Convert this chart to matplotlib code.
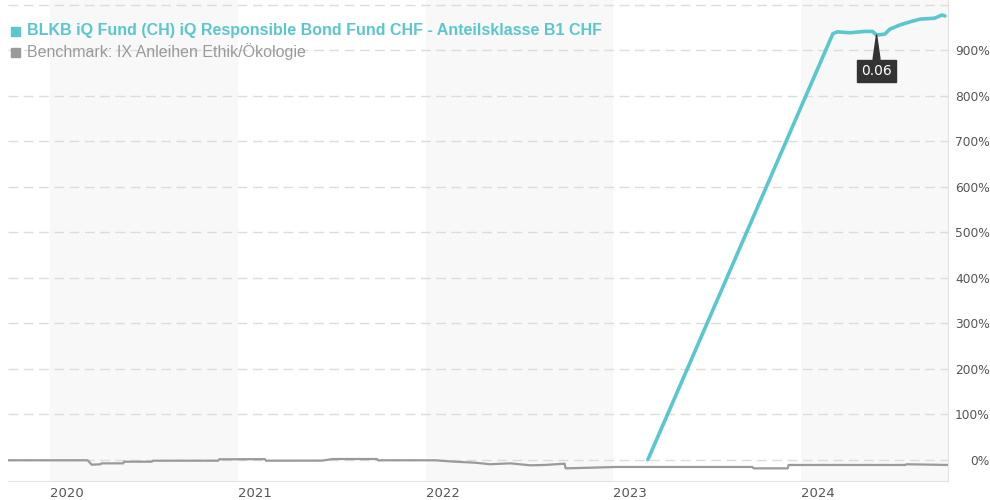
import numpy as np
import pandas as pd
import matplotlib
matplotlib.use("Agg")
from matplotlib import pyplot as plt

plt.rcParams["font.family"] = ["DejaVu Sans"]

fund_dates = ["2023-03-09", "2024-03-03", "2024-03-12", "2024-04-05", "2024-05-04",
              "2024-05-19", "2024-05-27", "2024-06-12", "2024-06-22", "2024-07-11",
              "2024-07-31", "2024-08-20", "2024-09-17", "2024-10-01", "2024-10-07"]
fund_vals = [0, 936, 940, 938, 941, 941, 933, 935, 946, 955, 962, 968, 970, 977, 975]

bench_dates = ["2019-10-11", "2020-03-14", "2020-03-22", "2020-04-08", "2020-04-10",
               "2020-05-22", "2020-05-24", "2020-07-17", "2020-07-19", "2020-11-23",
               "2020-11-25", "2021-02-22", "2021-02-24", "2021-06-13", "2021-07-04",
               "2021-09-28", "2021-09-30", "2022-01-19", "2022-02-27", "2022-04-07",
               "2022-05-06", "2022-06-14", "2022-07-23", "2022-08-20", "2022-09-28",
               "2022-09-30", "2022-11-16", "2023-01-04", "2023-02-02", "2023-09-28",
               "2023-10-01", "2023-12-06", "2023-12-08", "2024-07-21", "2024-07-25",
               "2024-10-13"]
bench_vals = [-1.3, -1.3, -11, -10, -8, -8, -4.4, -4.4, -2.2, -2.2,
              0.9, 1.2, -2.2, -2.0, 1.5, 1.5, -1.3, -1.3, -4.4, -6.6,
              -10, -8, -12.3, -11.6, -8.8, -19, -17.6, -16, -16, -16,
              -19, -19, -11.6, -11.6, -10, -11.6]

years = [2020, 2021, 2022, 2023, 2024]
y_ticks = [0, 100, 200, 300, 400, 500, 600, 700, 800, 900, 1000]
fund_name = "BLKB iQ Fund (CH) iQ Responsible Bond Fund CHF - Anteilsklasse B1 CHF"
bench_name = "Benchmark: IX Anleihen Ethik/Ökologie"
teal = "#5ac6ce"
grey = "#9a9a9a"

W, H = 990, 500
fig = plt.figure(figsize=(W / 100, H / 100), dpi=100)
ax = fig.add_axes([8 / W, (H - 481) / H, (948 - 8) / W, 481 / H])

x0 = pd.Timestamp("2019-10-11")
x1 = pd.Timestamp("2024-10-13")
ax.set_xlim(x0, x1)
ax.set_ylim(-46.8, 1010)

# alternating year shading
for y in years[::2]:
    ax.axvspan(pd.Timestamp(f"{y}-01-01"), min(pd.Timestamp(f"{y + 1}-01-01"), x1),
               color="#f8f8f8", lw=0, zorder=0)

for v in y_ticks:
    ax.axhline(v, color="#dcdcdc", lw=1, ls=(0, (7, 4)), zorder=1)

ax.plot(pd.to_datetime(bench_dates), bench_vals, color=grey, lw=1.6, zorder=3)
ax.plot(pd.to_datetime(fund_dates), fund_vals, color=teal, lw=2.6, zorder=4,
        solid_capstyle="round")

ax.annotate("0.06", xy=(pd.Timestamp("2024-05-27"), 933),
            xytext=(pd.Timestamp("2024-05-27"), 854), ha="center", va="center",
            color="white", fontsize=10,
            bbox=dict(boxstyle="square,pad=0.3", fc="#333333", ec="#333333"),
            arrowprops=dict(arrowstyle="wedge,tail_width=0.5,shrink_factor=0.5",
                            fc="#333333", ec="#333333", shrinkA=0, shrinkB=0),
            zorder=6)

for s in ["top", "left"]:
    ax.spines[s].set_visible(False)
ax.spines["right"].set_color("#e2e2e2")
ax.spines["bottom"].set_color("#e2e2e2")

ax.set_xticks([pd.Timestamp(f"{y}-01-01") for y in years])
ax.set_xticklabels([str(y) for y in years], ha="left", color="#555555", fontsize=9.5)
ax.tick_params(axis="x", length=0, pad=4)

ax.yaxis.tick_right()
ax.set_yticks(y_ticks)
ax.set_yticklabels([f"{v}%" if v < 1000 else "" for v in y_ticks],
                   ha="right", color="#555555", fontsize=8.8)
ax.tick_params(axis="y", length=0, pad=30)

# legend
fig.patches.append(plt.Rectangle((11 / W, (H - 36) / H), 9 / W, 9 / H,
                                 transform=fig.transFigure, color=teal))
fig.text(27 / W, (H - 31) / H, fund_name, color=teal, fontsize=11.5,
         fontweight="bold", family="Liberation Sans", va="center")
fig.patches.append(plt.Rectangle((11 / W, (H - 57) / H), 9 / W, 9 / H,
                                 transform=fig.transFigure, color=grey))
fig.text(27 / W, (H - 52) / H, bench_name, color=grey, fontsize=11.5,
         family="Liberation Sans", va="center")

fig.savefig("out.png", dpi=100)
